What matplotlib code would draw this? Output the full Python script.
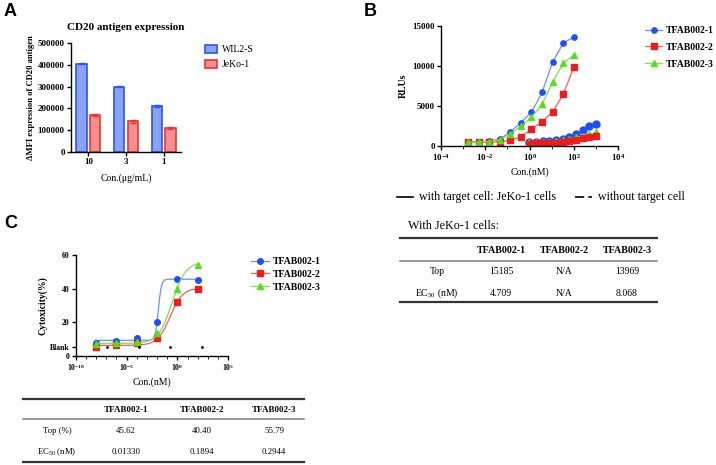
import matplotlib
matplotlib.use('Agg')
import matplotlib.pyplot as plt
import numpy as np
from matplotlib.lines import Line2D
from matplotlib.ticker import FixedLocator, NullFormatter

plt.rcParams['font.family'] = ['Liberation Serif', 'DejaVu Serif']
plt.rcParams['mathtext.fontset'] = 'custom'
plt.rcParams['mathtext.rm'] = 'Liberation Serif'
plt.rcParams['mathtext.bf'] = 'Liberation Serif:bold'
plt.rcParams['mathtext.it'] = 'Liberation Serif:italic'

W, H = 716, 465

# ---- panel A data
a_conc = ['10', '3', '1']
a_wil2s = [405000, 300000, 210000]
a_wil2s_err = [3000, 3000, 4000]
a_jeko = [170000, 140000, 110000]
a_jeko_err = [4000, 6000, 3000]

# ---- panel B data, with target cells (nM)
b_conc = [0.0017, 0.0051, 0.0152, 0.0457, 0.137, 0.412, 1.23, 3.70, 11.1, 33.3, 100]
b_tf1 = [550, 550, 600, 880, 1760, 2930, 4230, 6700, 10500, 12860, 13620]
b_tf2 = [500, 480, 500, 520, 700, 1130, 2100, 3060, 4230, 6450, 9850]
b_tf3 = [500, 500, 550, 800, 1500, 2470, 3600, 5200, 7960, 10350, 11350]
# without target cells
b_conc_nt = [0.977, 1.95, 3.91, 7.81, 15.6, 31.3, 62.5, 125, 250, 500, 1000]
b_tf1_nt = [550, 550, 580, 620, 700, 850, 1100, 1500, 2050, 2500, 2700]
b_tf2_nt = [300, 320, 350, 380, 420, 500, 600, 750, 950, 1150, 1300]
b_tf3_nt = [450, 470, 500, 550, 620, 750, 900, 1100, 1300, 1500, 1750]

# ---- panel C data
c_conc = [1e-8, 1e-6, 1e-4, 1e-2, 1, 100]
c_tf1 = [8.0, 9.1, 10.5, 20.3, 45.9, 45.1]
c_tf2 = [5.6, 6.6, 7.6, 10.5, 32.2, 40.0]
c_tf3 = [7.0, 7.5, 8.2, 13.5, 40.0, 54.3]
c_blank = 5.5
c_blank_x = [10**-6.9, 10**-3.8, 10**-0.7, 10**2.46]
# 4PL fit parameters (top / EC50 from table, bottom / hill estimated)
c_top = [45.62, 40.40, 55.79]
c_ec50 = [0.01330, 0.1894, 0.2944]
c_bottom = [9.3, 6.3, 7.5]
c_hill = [2.9, 0.7, 0.65]

names = ['TFAB002-1', 'TFAB002-2', 'TFAB002-3']
tab_b = [['15185', 'N/A', '13969'], ['4.709', 'N/A', '8.068']]
tab_c = [['45.62', '40.40', '55.79'], ['0.01330', '0.1894', '0.2944']]

blue, red, green = '#1f4ff0', '#f01c1c', '#55e01c'
blue_l, red_l, green_l = '#6f8ff0', '#f06060', '#7fe050'


def fx(x):
    return x / W


def fy(y):
    return 1 - y / H


def style_ax(ax):
    for s in ['top', 'right']:
        ax.spines[s].set_visible(False)
    for s in ['left', 'bottom']:
        ax.spines[s].set_linewidth(1.0)
    ax.tick_params(direction='out', length=3, width=1, pad=1.5)
    for lab in ax.get_xticklabels() + ax.get_yticklabels():
        lab.set_fontweight('bold')


fig = plt.figure(figsize=(W / 100, H / 100), dpi=100)

# ================= panel A
ax = fig.add_axes([fx(71), fy(152), (181 - 71) / W, (152 - 43) / H])
x = np.arange(len(a_conc))
ax.bar(x - 0.18, a_wil2s, 0.27, color='#8ca2f5', edgecolor='#2a55f5', linewidth=1.2, label='WIL2-S')
ax.bar(x + 0.18, a_jeko, 0.27, color='#f59090', edgecolor='#f03030', linewidth=1.2, label='JeKo-1')
ax.errorbar(x - 0.18, a_wil2s, yerr=a_wil2s_err, fmt='none', ecolor='#2a55f5', capsize=2, lw=1)
ax.errorbar(x + 0.18, a_jeko, yerr=a_jeko_err, fmt='none', ecolor='#f03030', capsize=2, lw=1)
ax.set_xlim(-0.46, 2.46)
ax.set_ylim(0, 500000)
ax.set_yticks(np.arange(0, 500001, 100000))
ax.set_xticks(x)
ax.set_xticklabels(a_conc)
ax.tick_params(labelsize=6.5)
style_ax(ax)
ax.set_title('CD20 antigen expression', fontsize=8, fontweight='bold', pad=9.5)
ax.set_ylabel('ΔMFI expression of CD20 antigen', fontsize=6.2, fontweight='bold', labelpad=2)
ax.set_xlabel('Con.(μg/mL)', fontsize=7, labelpad=5)
ax.legend(loc='upper left', bbox_to_anchor=(fx(205), fy(45)), bbox_transform=fig.transFigure,
          frameon=False, fontsize=7, handlelength=1.25, handleheight=0.9, handletextpad=0.5,
          labelspacing=0.55, borderpad=0, borderaxespad=0)
fig.text(fx(4), fy(12), 'A', fontsize=13, fontweight='bold', family='Liberation Sans', va='center')

# ================= panel B
ax = fig.add_axes([fx(441), fy(146), (618 - 441) / W, (146 - 26) / H])
ax.set_xscale('log')
for xs, ys, c, cl, m in [(b_conc_nt, b_tf1_nt, blue, blue_l, 'o'), (b_conc_nt, b_tf3_nt, green, green_l, '^'),
                         (b_conc_nt, b_tf2_nt, red, red_l, 's')]:
    ax.plot(xs, ys, ls='--', color=cl, lw=0.8, marker=m, ms=5, mfc=c, mec=c)
hb = []
for ys, c, cl, m, n in [(b_tf1, blue, blue_l, 'o', names[0]), (b_tf2, red, red_l, 's', names[1]),
                        (b_tf3, green, green_l, '^', names[2])]:
    h, = ax.plot(b_conc, ys, ls='-', color=cl, lw=0.9, marker=m, ms=3.8, mfc=c, mec=c, label=n)
    hb.append(h)
ax.set_xlim(1e-4, 1e4)
ax.set_ylim(0, 15000)
ax.set_yticks([0, 5000, 10000, 15000])
ax.xaxis.set_major_locator(FixedLocator([1e-4, 1e-2, 1, 1e2, 1e4]))
ax.set_xticklabels([r'$\mathbf{10^{-4}}$', r'$\mathbf{10^{-2}}$', r'$\mathbf{10^{0}}$',
                    r'$\mathbf{10^{2}}$', r'$\mathbf{10^{4}}$'])
ax.xaxis.set_minor_locator(FixedLocator([1e-3, 1e-1, 1e1, 1e3]))
ax.xaxis.set_minor_formatter(NullFormatter())
ax.tick_params(labelsize=6.5)
ax.tick_params(which='minor', length=2)
style_ax(ax)
ax.set_ylabel('RLUs', fontsize=7, fontweight='bold', labelpad=3)
ax.set_xlabel('Con.(nM)', fontsize=7, labelpad=3)
ax.legend(handles=hb, loc='upper left', bbox_to_anchor=(fx(645), fy(26)), bbox_transform=fig.transFigure,
          frameon=False, prop={'size': 7, 'weight': 'bold'}, handlelength=1.75, handletextpad=0.35,
          labelspacing=0.8, borderpad=0, borderaxespad=0)
fig.text(fx(364), fy(12), 'B', fontsize=13, fontweight='bold', family='Liberation Sans', va='center')

# legend for line styles
fig.add_artist(Line2D([fx(397), fx(413)], [fy(197), fy(197)], color='black', lw=1.2))
fig.text(fx(419), fy(197), 'with target cell: JeKo-1 cells', fontsize=8.6, va='center')
fig.add_artist(Line2D([fx(575), fx(592)], [fy(197), fy(197)], color='black', lw=1.2, ls=(0, (5.5, 2.5))))
fig.text(fx(598), fy(197), 'without target cell', fontsize=8.6, va='center')
fig.text(fx(408), fy(226), 'With JeKo-1 cells:', fontsize=8.7, va='center')


def draw_table(x0, x1, ys, lab_x, col_x, rows, fs_h, fs):
    fig.add_artist(Line2D([fx(x0), fx(x1)], [fy(ys[0]), fy(ys[0])], color='#333333', lw=1.6))
    fig.add_artist(Line2D([fx(x0), fx(x1)], [fy(ys[2]), fy(ys[2])], color='#888888', lw=1.2))
    fig.add_artist(Line2D([fx(x0), fx(x1)], [fy(ys[5]), fy(ys[5])], color='#333333', lw=1.6))
    for cx, n in zip(col_x, names):
        fig.text(fx(cx), fy(ys[1]), n, fontsize=fs_h, fontweight='bold', ha='center', va='center')
    for ry, lab, vals in zip([ys[3], ys[4]], rows[0], rows[1]):
        fig.text(fx(lab_x), fy(ry), lab, fontsize=fs, ha='center', va='center')
        for cx, v in zip(col_x, vals):
            fig.text(fx(cx), fy(ry), v, fontsize=fs, ha='center', va='center')


draw_table(400, 657, [238, 250.5, 261, 272, 293, 302], 437, [501, 564, 627],
           [['Top', r'EC$_{50}$ (nM)'], tab_b], 7.2, 7)

# ================= panel C
ax = fig.add_axes([fx(75.7), fy(356), (228.3 - 75.7) / W, (356 - 255) / H])
ax.set_xscale('log')
xx = np.logspace(-8, 2, 300)
hc = []
for ys, c, cl, m, n, b, t, e, hl in zip([c_tf1, c_tf2, c_tf3], [blue, red, green], [blue_l, red_l, green_l],
                                        ['o', 's', '^'], names, c_bottom, c_top, c_ec50, c_hill):
    ax.plot(xx, b + (t - b) / (1 + (e / xx) ** hl), color=cl, lw=0.9)
    ax.plot(c_conc, ys, ls='none', marker=m, ms=4, mfc=c, mec=c)
    hc.append(Line2D([], [], color=cl, lw=0.9, marker=m, ms=4, mfc=c, mec=c, label=n))
ax.plot(c_blank_x, [c_blank] * len(c_blank_x), ls='none', marker='o', ms=1, color='black')
ax.set_xlim(1e-10, 1e5)
ax.set_ylim(0, 60)
ax.yaxis.set_major_locator(FixedLocator([0, c_blank, 20, 40, 60]))
ax.set_yticklabels(['0', 'Blank', '20', '40', '60'])
ax.xaxis.set_major_locator(FixedLocator([1e-10, 1e-5, 1, 1e5]))
ax.set_xticklabels([r'$\mathbf{10^{-10}}$', r'$\mathbf{10^{-5}}$', r'$\mathbf{10^{0}}$', r'$\mathbf{10^{5}}$'])
ax.xaxis.set_minor_locator(FixedLocator([10.0 ** k for k in range(-10, 6)]))
ax.xaxis.set_minor_formatter(NullFormatter())
ax.tick_params(labelsize=5.6)
ax.tick_params(which='minor', length=2)
style_ax(ax)
ax.set_ylabel('Cytoxicity(%)', fontsize=7, fontweight='bold', labelpad=2)
ax.set_xlabel('Con.(nM)', fontsize=7, labelpad=3)
ax.legend(handles=hc, loc='upper left', bbox_to_anchor=(fx(251), fy(257)), bbox_transform=fig.transFigure,
          frameon=False, prop={'size': 7, 'weight': 'bold'}, handlelength=1.85, handletextpad=0.35,
          labelspacing=0.4, borderpad=0, borderaxespad=0)
fig.text(fx(4), fy(223), 'C', fontsize=13, fontweight='bold', family='Liberation Sans', va='center')

draw_table(23, 304, [399, 410, 419, 431, 452, 462], 57, [126, 202, 274],
           [['Top (%)', r'EC$_{50}$ (nM)'], tab_c], 6.5, 6.3)

fig.savefig('out.png', dpi=100)
